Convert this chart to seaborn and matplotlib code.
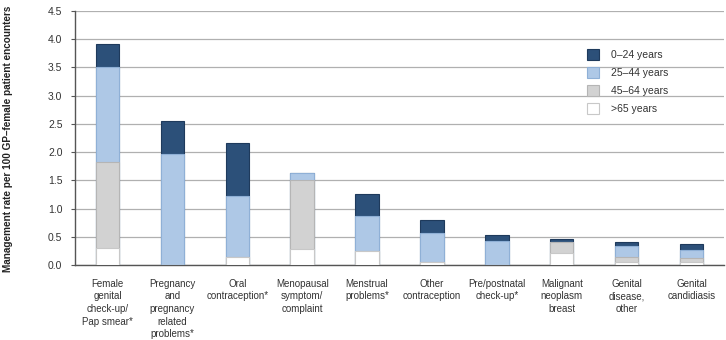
import matplotlib
matplotlib.use("Agg")
import matplotlib.pyplot as plt
import seaborn as sns
import numpy as np
import pandas as pd
from matplotlib.patches import Patch
from matplotlib.ticker import FixedLocator

categories = [
    "Female\ngenital\ncheck-up/\nPap smear*",
    "Pregnancy\nand\npregnancy\nrelated\nproblems*",
    "Oral\ncontraception*",
    "Menopausal\nsymptom/\ncomplaint",
    "Menstrual\nproblems*",
    "Other\ncontraception",
    "Pre/postnatal\ncheck-up*",
    "Malignant\nneoplasm\nbreast",
    "Genital\ndisease,\nother",
    "Genital\ncandidiasis",
]
age_65_plus = [0.30, 0.00, 0.15, 0.28, 0.25, 0.06, 0.00, 0.21, 0.05, 0.05]
age_45_64   = [1.53, 0.00, 0.00, 1.22, 0.00, 0.00, 0.00, 0.19, 0.09, 0.07]
age_25_44   = [1.68, 1.97, 1.07, 0.13, 0.62, 0.50, 0.43, 0.00, 0.19, 0.14]
age_0_24    = [0.40, 0.58, 0.95, 0.00, 0.39, 0.23, 0.11, 0.06, 0.07, 0.11]
series_labels = ["0\u201324 years", "25\u201344 years", "45\u201364 years", ">65 years"]
y_label = "Management rate per 100 GP\u2013female patient encounters"

sns.set_theme(style="white")
plt.rcParams["font.family"] = ["Liberation Sans", "DejaVu Sans"]

colors = {"0-24": "#2c5079", "25-44": "#aec8e6", "45-64": "#d2d2d2", "65+": "#ffffff"}
edges = {"0-24": "#1e3a5c", "25-44": "#8fb0d6", "45-64": "#b5b5b5", "65+": "#c8c8c8"}

s65 = np.array(age_65_plus)
s45 = s65 + np.array(age_45_64)
s25 = s45 + np.array(age_25_44)
s0 = s25 + np.array(age_0_24)

df = pd.DataFrame({"cat": categories, "s0": s0, "s25": s25, "s45": s45, "s65": s65})

fig = plt.figure(figsize=(7.26, 3.40), dpi=100)
ax = fig.add_axes([75/726, 1 - 265/340, 649/726, 254/340])

for col, key in [("s0", "0-24"), ("s25", "25-44"), ("s45", "45-64"), ("s65", "65+")]:
    sns.barplot(data=df, x="cat", y=col, color=colors[key], width=0.36,
                edgecolor=edges[key], linewidth=0.8, saturation=1, ax=ax, zorder=3)

ax.set_ylim(0, 4.5)
ax.set_xlim(-0.5, 9.5)
ax.set_yticks(np.arange(0, 4.51, 0.5))
ax.set_yticklabels([f"{v:.1f}" for v in np.arange(0, 4.51, 0.5)], fontsize=7.5, color="#333333")
ax.grid(axis="y", color="#b0b0b0", linewidth=0.9, zorder=0)
ax.set_axisbelow(True)

ax.tick_params(axis="x", which="major", length=0, labelsize=7.0, pad=10, colors="#333333")
ax.xaxis.set_minor_locator(FixedLocator(np.arange(0.5, 9.6, 1.0)))
ax.tick_params(axis="x", which="minor", length=4, width=0.8, color="#555555", direction="out")
ax.tick_params(axis="y", which="major", length=3, width=0.8, color="#555555", direction="out", left=True, pad=6)
for lbl in ax.get_xticklabels():
    lbl.set_linespacing(1.32)
    lbl.set_verticalalignment("top")

ax.set_xlabel("")
ax.set_ylabel(y_label, fontsize=7.2, fontweight="bold", color="#222222", labelpad=24)
ax.yaxis.set_label_coords(-0.095, 0.495)

for side in ["top", "right"]:
    ax.spines[side].set_visible(False)
for side in ["left", "bottom"]:
    ax.spines[side].set_color("#555555")
    ax.spines[side].set_linewidth(1.0)

handles = [Patch(facecolor=colors[k], edgecolor=edges[k], linewidth=0.8)
           for k in ["0-24", "25-44", "45-64", "65+"]]
fig.legend(handles, series_labels, loc="upper left",
           bbox_to_anchor=(578/726, 1 - 40/340), frameon=False, fontsize=7.5,
           handlelength=1.15, handleheight=1.15, handletextpad=1.1, labelspacing=0.7,
           labelcolor="#333333")

fig.savefig("out.png", dpi=100)
